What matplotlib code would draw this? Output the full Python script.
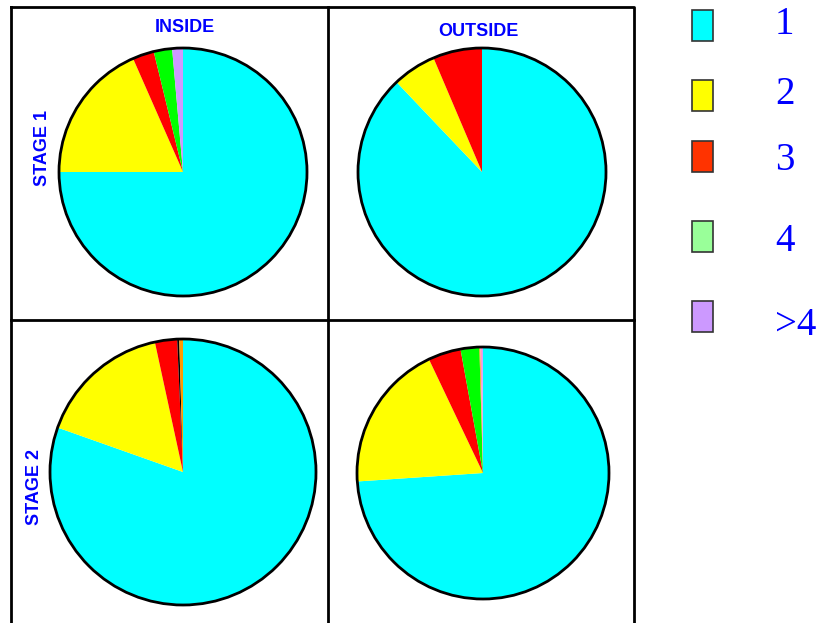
import matplotlib.pyplot as plt
from matplotlib.patches import Circle, Rectangle

W, H = 821, 623

# share of each class (percent), clockwise from 12 o'clock
inside_stage1 = [75.0, 18.4, 2.8, 2.4, 1.4]
outside_stage1 = [87.9, 5.7, 6.4]
inside_stage2 = [80.5, 16.2, 2.7, 0.25, 0.45]
outside_stage2 = [73.9, 19.0, 4.2, 2.4, 0.12, 0.22, 0.12]

legend_labels = ["1", "2", "3", "4", ">4"]
col_titles = ["INSIDE", "OUTSIDE"]
row_titles = ["STAGE 1", "STAGE 2"]

# colours
pie_cols_tl = ["#00FFFF", "#FFFF00", "#FF0000", "#00FF00", "#CC99FF"]
pie_cols_tr = ["#00FFFF", "#FFFF00", "#FF0000"]
pie_cols_bl = ["#00FFFF", "#FFFF00", "#FF0000", "#000000", "#FF9900"]
pie_cols_br = ["#00FFFF", "#FFFF00", "#FF0000", "#00FF00", "#FF9900", "#FF99CC", "#CC99FF"]
legend_cols = ["#00FFFF", "#FFFF00", "#FF3300", "#99FF99", "#CC99FF"]

fig = plt.figure(figsize=(W / 100, H / 100), dpi=100)
ax = fig.add_axes([0, 0, 1, 1])


def py(y):
    # pixel row (from top) -> data y
    return H - y


# grid box
lw = 2
ax.plot([11, 634, 634, 11, 11], [py(7), py(7), py(625), py(625), py(7)], color="black", lw=lw)
ax.plot([328, 328], [py(7), py(625)], color="black", lw=lw)
ax.plot([11, 634], [py(320), py(320)], color="black", lw=lw)

pies = [
    (inside_stage1, pie_cols_tl, (183, 172), 124),
    (outside_stage1, pie_cols_tr, (482, 172), 124),
    (inside_stage2, pie_cols_bl, (183, 472), 133),
    (outside_stage2, pie_cols_br, (483, 473), 126),
]
for vals, cols, (cx, cy), r in pies:
    ax.pie(vals, colors=cols, startangle=90, counterclock=False,
           center=(cx, py(cy)), radius=r, wedgeprops=dict(linewidth=0),
           frame=True)
    ax.add_patch(Circle((cx, py(cy)), r, fill=False, edgecolor="black", lw=2, zorder=5))

ax.set_xlim(0, W)
ax.set_ylim(0, H)
ax.set_aspect("equal")
ax.axis("off")

title_kw = dict(color="#0000FF", fontsize=13, fontweight="bold", family="Liberation Sans")
ax.text(185, py(27.5), col_titles[0], ha="center", va="center", **title_kw)
ax.text(478, py(31.5), col_titles[1], ha="center", va="center", **title_kw)
ax.text(42, py(148), row_titles[0], ha="center", va="center", rotation=90, **title_kw)
ax.text(34, py(487), row_titles[1], ha="center", va="center", rotation=90, **title_kw)

# legend
box_y = [10, 80, 141, 221, 301]
txt_base = [34, 104, 170, 251, 335]
for lab, c, by, tb in zip(legend_labels, legend_cols, box_y, txt_base):
    ax.add_patch(Rectangle((692, py(by + 31)), 21, 31, facecolor=c,
                           edgecolor="#333333", lw=1.2))
    ax.text(775, py(tb), lab, ha="left", va="baseline", color="#0000FF",
            fontsize=28, family="Liberation Serif")

fig.savefig("out.png", dpi=100)
